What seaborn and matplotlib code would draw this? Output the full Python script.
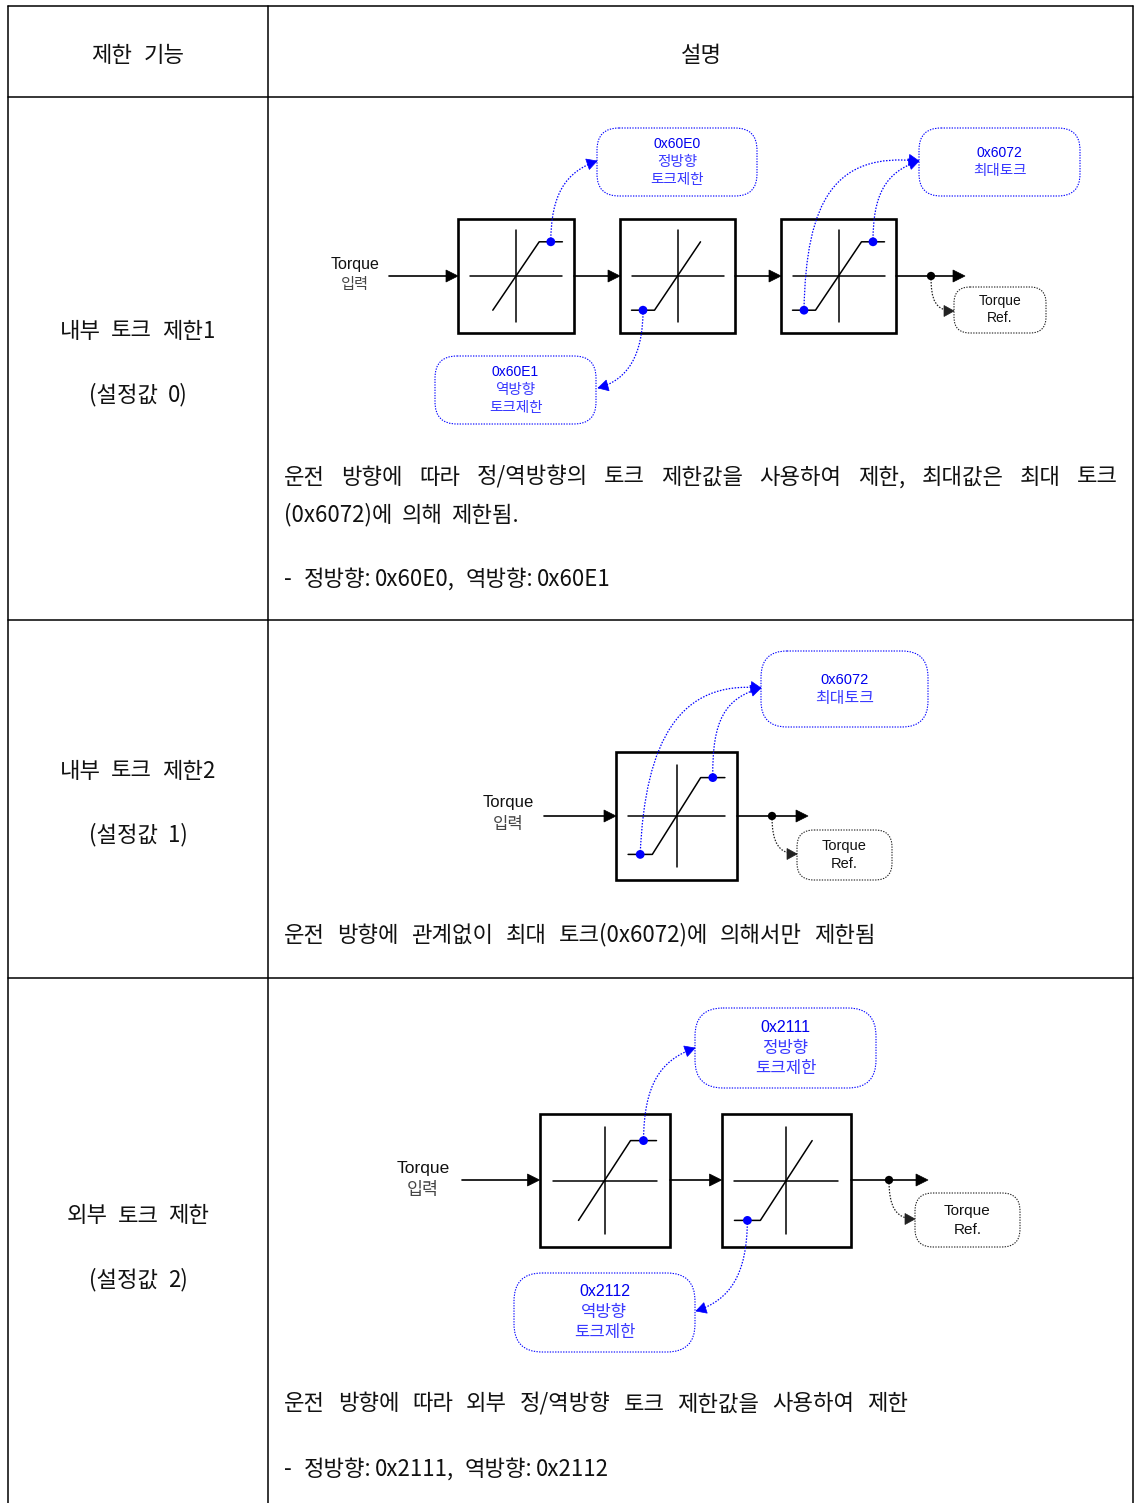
import matplotlib
matplotlib.use("Agg")
import numpy as np
import pandas as pd
import matplotlib.pyplot as plt
import seaborn as sns
from matplotlib.patches import Rectangle, FancyBboxPatch, Polygon, PathPatch
from matplotlib.path import Path

sns.set_theme(style="white")
KR = ["Noto Sans CJK KR", "DejaVu Sans"]
LAT = ["Liberation Sans", "DejaVu Sans"]
plt.rcParams["font.family"] = KR

# ------------------------------------------------------------
# Text content
# ------------------------------------------------------------
HEADERS = ["제한 기능", "설명"]
MODE_NAMES = ["내부 토크 제한1", "내부 토크 제한2", "외부 토크 제한"]
MODE_SETTINGS = ["(설정값 0)", "(설정값 1)", "(설정값 2)"]

DESC_MODE0 = ["운전 방향에 따라 정/역방향의 토크 제한값을 사용하여 제한, 최대값은 최대 토크",
              "(0x6072)에 의해 제한됨.",
              "- 정방향: 0x60E0, 역방향: 0x60E1"]
DESC_MODE1 = ["운전 방향에 관계없이 최대 토크(0x6072)에 의해서만 제한됨"]
DESC_MODE2 = ["운전 방향에 따라 외부 정/역방향 토크 제한값을 사용하여 제한",
              "- 정방향: 0x2111, 역방향: 0x2112"]

REG_FWD_0 = ["0x60E0", "정방향", "토크제한"]
REG_REV_0 = ["0x60E1", "역방향", "토크제한"]
REG_MAX = ["0x6072", "최대토크"]
REG_FWD_2 = ["0x2111", "정방향", "토크제한"]
REG_REV_2 = ["0x2112", "역방향", "토크제한"]
INPUT_TEXT = ["Torque", "입력"]
OUTPUT_TEXT = ["Torque", "Ref."]

LIMITS_MODE0 = ["upper", "lower", "both"]
LIMITS_MODE1 = ["both"]
LIMITS_MODE2 = ["upper", "lower"]

BLUE = "#0000ff"
BLUE_TXT = "#3a3aff"
HEX_TXT = "#0000ee"
DOTS = (0, (1.2, 1.2))
FS = 16
DY = 3   # baseline nudge for table text

fig = plt.figure(figsize=(11.35, 15.03), dpi=100)
ax = fig.add_axes([0, 0, 1, 1])
ax.set_xlim(0, 1135)
ax.set_ylim(1503, 0)
ax.axis("off")
R = fig.canvas.get_renderer()


def place_words(words, y, left=None, right=None, center=None, gap=10,
                weights=None, fs=FS, color="#111111", family=KR):
    objs = [ax.text(0, y + DY, w, ha="left", va="center", fontsize=fs,
                    color=color, family=family) for w in words]
    widths = [o.get_window_extent(renderer=R).width for o in objs]
    if weights is None:
        weights = [1] * (len(words) - 1)
    if left is not None and right is not None:
        gap = (right - left - sum(widths)) / max(sum(weights), 1)
    total = sum(widths) + gap * sum(weights)
    x = left if center is None else center - total / 2
    for i, (o, w) in enumerate(zip(objs, widths)):
        o.set_x(x)
        x += w + (gap * weights[i] if i < len(weights) else 0)


def head(tip, direction, L=11, W=11, color="black"):
    d = np.asarray(direction, float)
    d /= np.hypot(*d)
    n = np.array([-d[1], d[0]])
    tip = np.asarray(tip, float)
    base = tip - L * d
    ax.add_patch(Polygon([tip, base + n * W / 2, base - n * W / 2],
                         closed=True, fc=color, ec=color, lw=0.5, zorder=6))


def straight_arrow(x0, x1, y):
    ax.plot([x0, x1 - 4], [y, y], color="black", lw=1.2, zorder=3)
    head((x1, y), (1, 0), L=12, W=12)


def curve(p0, p1, p2, p3, color=BLUE, L=10, W=11):
    path = Path([p0, p1, p2, p3], [Path.MOVETO, Path.CURVE4, Path.CURVE4, Path.CURVE4])
    ax.add_patch(PathPatch(path, fill=False, ec=color, lw=0.9, ls=DOTS, zorder=4))
    head(p3, np.subtract(p3, p2), L=L, W=W, color=color)


def limiter(x0, y0, w, h, kind):
    ax.add_patch(Rectangle((x0, y0), w, h, fill=False, ec="black", lw=1.9, zorder=3))
    cx, cy = x0 + w / 2, y0 + h / 2
    ax.plot([x0 + 0.1 * w, x0 + 0.9 * w], [cy, cy], color="black", lw=1.1, zorder=3)
    ax.plot([cx, cx], [y0 + 0.1 * h, y0 + 0.9 * h], color="black", lw=1.1, zorder=3)
    xs = [cx - 0.2 * w, cx + 0.2 * w]
    ys = [cy + 0.3 * h, cy - 0.3 * h]
    dots = {}
    if kind in ("lower", "both"):
        xs.insert(0, x0 + 0.1 * w); ys.insert(0, cy + 0.3 * h)
        dots["lower"] = (cx - 0.3 * w, cy + 0.3 * h)
    if kind in ("upper", "both"):
        xs.append(x0 + 0.9 * w); ys.append(cy - 0.3 * h)
        dots["upper"] = (cx + 0.3 * w, cy - 0.3 * h)
    ax.plot(xs, ys, color="black", lw=1.1, zorder=3)
    return dots


def label_box(x0, y0, w, h, lines, fs_lat, fs_kr, spacing, ec, txt_lat, txt_kr, r=22):
    ax.add_patch(FancyBboxPatch((x0, y0), w, h, boxstyle=f"round,pad=0,rounding_size={r}",
                                fc="white", ec=ec, lw=0.8, ls=DOTS, zorder=2))
    cy = y0 + h / 2
    n = len(lines)
    for i, line in enumerate(lines):
        y = cy + (i - (n - 1) / 2) * spacing
        if line.isascii():
            ax.text(x0 + w / 2, y, line, ha="center", va="center", fontsize=fs_lat,
                    family=LAT, color=txt_lat, zorder=5)
        else:
            ax.text(x0 + w / 2, y, line, ha="center", va="center", fontsize=fs_kr,
                    family=KR, color=txt_kr, zorder=5)


def input_label(x, y, fs_lat, fs_kr, dy):
    ax.text(x, y - dy, INPUT_TEXT[0], ha="center", va="center", fontsize=fs_lat,
            family=LAT, color="#111111")
    ax.text(x, y + dy, INPUT_TEXT[1], ha="center", va="center", fontsize=fs_kr,
            family=KR, color="#444444")


# ------------------------------------------------------------
# Table grid
# ------------------------------------------------------------
ROW_EDGES = [6, 97, 620, 978]
COL_EDGES = [8, 268, 1133]
for y in ROW_EDGES:
    ax.plot([COL_EDGES[0], COL_EDGES[-1]], [y, y], color="black", lw=1.1)
for x in COL_EDGES:
    ax.plot([x, x], [ROW_EDGES[0], 1503], color="black", lw=1.1)

place_words(HEADERS[0].split(), 52, center=138, gap=12)
place_words(HEADERS[1].split(), 52, center=701, gap=12)

for name, setting, (y1, y2) in zip(MODE_NAMES, MODE_SETTINGS,
                                   [(328, 392), (768, 832), (1213, 1277)]):
    place_words(name.split(), y1, center=138, gap=10)
    place_words(setting.split(), y2, center=138, gap=10)

# Descriptions
place_words(DESC_MODE0[0].split(), 474, left=284, right=1118)
place_words(DESC_MODE0[1].split(), 512, left=284, right=519)
place_words(DESC_MODE0[2].split(), 576, left=284, gap=4, weights=[3, 1, 2.5, 1])
place_words(DESC_MODE1[0].split(), 932, left=284, right=876)
place_words(DESC_MODE2[0].split(), 1401, left=284, right=908)
place_words(DESC_MODE2[1].split(), 1466, left=284, gap=4, weights=[3, 1, 2.5, 1])

blue_dots = []
black_dots = []

# ------------------------------------------------------------
# Mode 0 diagram
# ------------------------------------------------------------
yl = 276
b1 = limiter(458, 219, 116, 114, LIMITS_MODE0[0])
b2 = limiter(620, 219, 115, 114, LIMITS_MODE0[1])
b3 = limiter(781, 219, 115, 114, LIMITS_MODE0[2])
straight_arrow(389, 458, yl)
straight_arrow(574, 620, yl)
straight_arrow(735, 781, yl)
straight_arrow(896, 965, yl)
input_label(355, 275, 11.5, 11, 10)
black_dots.append((931, yl))
label_box(597, 128, 160, 68, REG_FWD_0, 10, 10.5, 18, BLUE, HEX_TXT, BLUE_TXT)
label_box(919, 128, 161, 68, REG_MAX, 10, 10.5, 18, BLUE, HEX_TXT, BLUE_TXT)
label_box(435, 356, 161, 68, REG_REV_0, 10, 10.5, 18, BLUE, HEX_TXT, BLUE_TXT)
label_box(954, 287, 92, 46, OUTPUT_TEXT, 10, 10, 17, "#222222", "#111111", "#111111", r=16)
curve(b1["upper"], (551, 195), (565, 172), (597, 161))
curve(b2["lower"], (643, 355), (628, 380), (598, 388))
curve(b3["lower"], (806, 200), (835, 152), (919, 161))
curve(b3["upper"], (873, 195), (885, 172), (919, 161))
curve((931, yl), (931, 300), (935, 311), (954, 311), color="#222222", L=10, W=11)
blue_dots += list(b1.values()) + list(b2.values()) + list(b3.values())

# ------------------------------------------------------------
# Mode 1 diagram
# ------------------------------------------------------------
yl = 816
c1 = limiter(616, 752, 121, 128, LIMITS_MODE1[0])
straight_arrow(544, 616, yl)
straight_arrow(737, 808, yl)
input_label(508, 814, 12, 12, 11)
black_dots.append((772, yl))
label_box(761, 651, 167, 76, REG_MAX, 10.5, 11.5, 19, BLUE, HEX_TXT, BLUE_TXT, r=26)
label_box(797, 830, 95, 50, OUTPUT_TEXT, 10.5, 10.5, 18, "#222222", "#111111", "#111111", r=17)
curve(c1["lower"], (645, 740), (680, 680), (761, 688))
curve(c1["upper"], (712, 720), (725, 698), (761, 688))
curve((772, yl), (772, 842), (778, 854), (797, 854), color="#222222", L=10, W=11)
blue_dots += list(c1.values())

# ------------------------------------------------------------
# Mode 2 diagram
# ------------------------------------------------------------
yl = 1180
d1 = limiter(539.5, 1114, 130, 133, LIMITS_MODE2[0])
d2 = limiter(721.5, 1114, 129.5, 133, LIMITS_MODE2[1])
straight_arrow(462, 539.5, yl)
straight_arrow(669.5, 721.5, yl)
straight_arrow(851, 928, yl)
input_label(423, 1179, 12.5, 12.5, 11)
black_dots.append((889, yl))
label_box(695, 1008, 181, 80, REG_FWD_2, 11.5, 12, 20.5, BLUE, HEX_TXT, BLUE_TXT, r=28)
label_box(514, 1273, 181, 79, REG_REV_2, 11.5, 12, 20.5, BLUE, HEX_TXT, BLUE_TXT, r=28)
label_box(915, 1193, 105, 54, OUTPUT_TEXT, 11, 11, 19, "#222222", "#111111", "#111111", r=18)
curve(d1["upper"], (644, 1085), (660, 1060), (695, 1048))
curve(d2["lower"], (747, 1275), (730, 1300), (696, 1311))
curve((889, yl), (889, 1206), (895, 1219), (915, 1219), color="#222222", L=10, W=11)
blue_dots += list(d1.values()) + list(d2.values())

# Junction and tap dots
bd = pd.DataFrame(blue_dots, columns=["x", "y"])
kd = pd.DataFrame(black_dots, columns=["x", "y"])
sns.scatterplot(data=bd, x="x", y="y", color=BLUE, s=40, edgecolor="none",
                ax=ax, zorder=7, legend=False)
sns.scatterplot(data=kd, x="x", y="y", color="black", s=36, edgecolor="none",
                ax=ax, zorder=7, legend=False)

ax.set_xlim(0, 1135)
ax.set_ylim(1503, 0)
ax.axis("off")
fig.savefig("out.png", dpi=100)
